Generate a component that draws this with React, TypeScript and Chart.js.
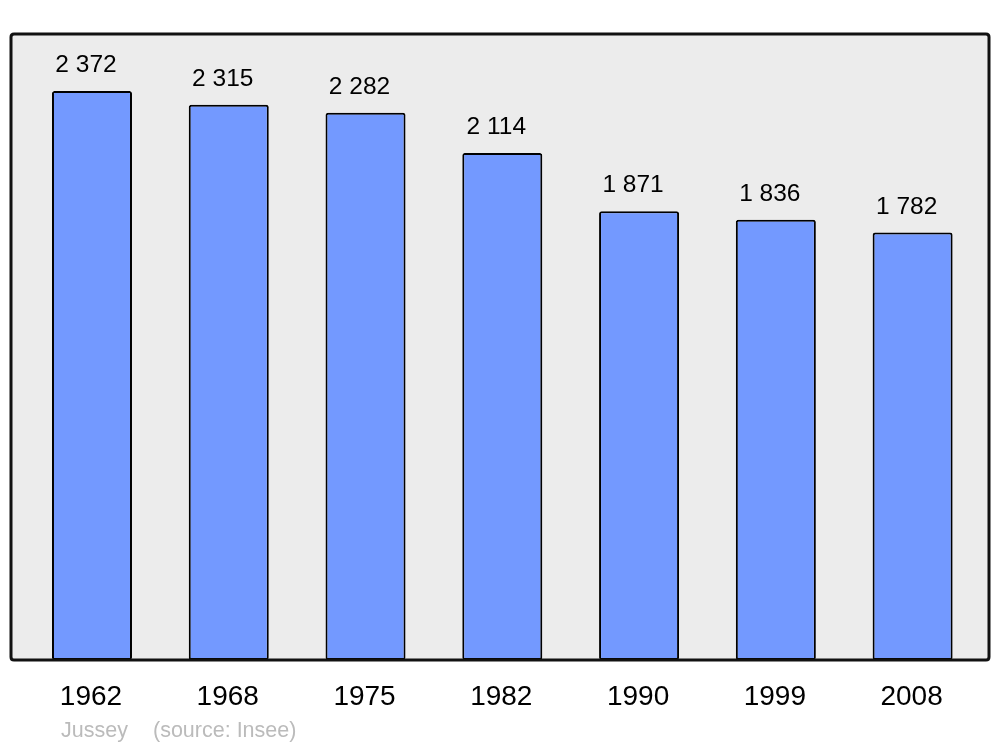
import React, { useEffect, useRef } from "react";
import { Chart, registerables } from "chart.js";

Chart.register(...registerables);

const years = ["1962", "1968", "1975", "1982", "1990", "1999", "2008"];
const population = [2372, 2315, 2282, 2114, 1871, 1836, 1782];
const valueLabels = ["2 372", "2 315", "2 282", "2 114", "1 871", "1 836", "1 782"];
const townName = "Jussey";
const sourceText = "(source: Insee)";

const FONT = "'Liberation Sans', Arial, sans-serif";

function roundRect(ctx: CanvasRenderingContext2D, x: number, y: number, w: number, h: number, r: number) {
  ctx.beginPath();
  ctx.moveTo(x + r, y);
  ctx.lineTo(x + w - r, y);
  ctx.quadraticCurveTo(x + w, y, x + w, y + r);
  ctx.lineTo(x + w, y + h - r);
  ctx.quadraticCurveTo(x + w, y + h, x + w - r, y + h);
  ctx.lineTo(x + r, y + h);
  ctx.quadraticCurveTo(x, y + h, x, y + h - r);
  ctx.lineTo(x, y + r);
  ctx.quadraticCurveTo(x, y, x + r, y);
  ctx.closePath();
}

const frameBox = { x: 11, y: 34, w: 978, h: 626 };

const framePlugin = {
  id: "frame",
  beforeDatasetsDraw(chart: any) {
    const ctx = chart.ctx as CanvasRenderingContext2D;
    ctx.save();
    roundRect(ctx, frameBox.x, frameBox.y, frameBox.w, frameBox.h, 3);
    ctx.fillStyle = "#ECECEC";
    ctx.fill();
    ctx.restore();
  },
  afterDatasetsDraw(chart: any) {
    const ctx = chart.ctx as CanvasRenderingContext2D;
    ctx.save();
    roundRect(ctx, frameBox.x, frameBox.y, frameBox.w, frameBox.h, 3);
    ctx.lineWidth = 3;
    ctx.strokeStyle = "#111111";
    ctx.stroke();
    ctx.restore();
  },
  afterDraw(chart: any) {
    const ctx = chart.ctx as CanvasRenderingContext2D;
    const xs = chart.scales.x;
    const ys = chart.scales.y;
    ctx.save();
    ctx.textAlign = "center";
    ctx.textBaseline = "alphabetic";
    ctx.fillStyle = "#000000";
    ctx.font = `24.5px ${FONT}`;
    population.forEach((v, i) => {
      const x = xs.getPixelForValue(i);
      const y = ys.getPixelForValue(v);
      ctx.fillText(valueLabels[i], x - 6, y - 19);
    });
    ctx.font = `28px ${FONT}`;
    years.forEach((yr, i) => {
      const x = xs.getPixelForValue(i);
      ctx.fillText(yr, x - 1, ys.getPixelForValue(0) + 45);
    });
    ctx.textAlign = "left";
    ctx.fillStyle = "#BBBBBB";
    ctx.font = `21.5px ${FONT}`;
    ctx.fillText(townName, 61, 737);
    ctx.fillText(sourceText, 153, 737);
    ctx.restore();
  },
};

export default function App() {
  const ref = useRef<HTMLCanvasElement | null>(null);
  useEffect(() => {
    if (!ref.current) return;
    const chart = new Chart(ref.current, {
      type: "bar",
      data: {
        labels: years,
        datasets: [
          {
            data: population,
            backgroundColor: "#7399FF",
            borderColor: "#000000",
            borderWidth: 2,
            borderRadius: 2.5,
            borderSkipped: false,
            categoryPercentage: 1,
            barPercentage: 0.585,
          },
        ],
      },
      options: {
        responsive: false,
        animation: false,
        layout: { padding: { left: 23.6, right: 19, top: 34, bottom: 87 } },
        plugins: { legend: { display: false }, tooltip: { enabled: false } },
        scales: {
          x: { display: false, offset: true },
          y: { display: false, min: 0, max: 2610 },
        },
      },
      plugins: [framePlugin],
    });
    return () => chart.destroy();
  }, []);
  return (
    <div style={{ position: "absolute", left: 0, top: 0, width: 1000, height: 747, background: "#ffffff" }}>
      <canvas ref={ref} width={1000} height={747} style={{ display: "block" }} />
    </div>
  );
}
